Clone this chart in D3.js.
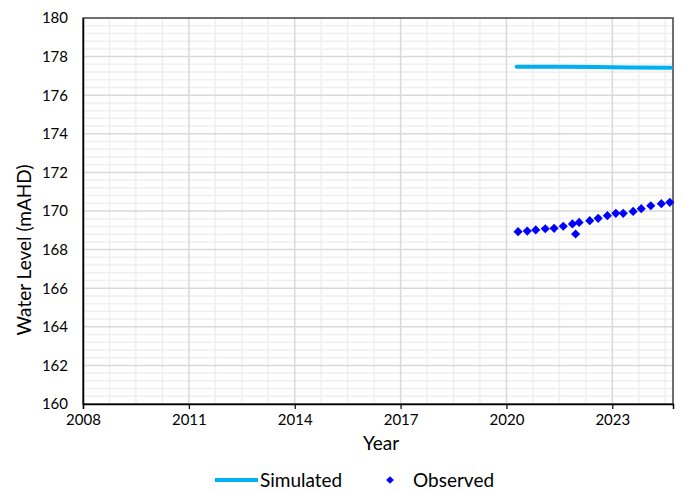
<!DOCTYPE html>
<html><head><meta charset="utf-8">
<script src="https://cdn.jsdelivr.net/npm/d3@7"></script>
<style>body{margin:0;background:#fff}svg{display:block}text{font-family:Lato,"Open Sans",sans-serif;fill:#000}</style>
</head><body>
<svg id="c" width="683" height="491"></svg>
<script>
// Data (decimal years)
const xTicks = [2008, 2011, 2014, 2017, 2020, 2023];
const yTicks = [160, 162, 164, 166, 168, 170, 172, 174, 176, 178, 180];
const simYears = [2020.29, 2021.5, 2022.5, 2023.5, 2024.66];
const simValues = [177.48, 177.47, 177.46, 177.44, 177.42];
const obsYears = [2020.33, 2020.59, 2020.83, 2021.10, 2021.35, 2021.61, 2021.87, 2021.96, 2022.06, 2022.36, 2022.60, 2022.86, 2023.10, 2023.31, 2023.59, 2023.82, 2024.09, 2024.39, 2024.63];
const obsValues = [168.93, 168.96, 169.02, 169.08, 169.10, 169.21, 169.33, 168.81, 169.41, 169.50, 169.62, 169.76, 169.88, 169.88, 169.98, 170.12, 170.27, 170.38, 170.45];

const svg = d3.select("#c");
const L = 83, R = 673, T = 18, B = 404;
const x = d3.scaleLinear().domain([2008, 2024.72]).range([L, R]);
const y = d3.scaleLinear().domain([160, 180]).range([B, T]);

// minor gridlines
const xMinor = d3.range(2008, 2024.72, 0.75).filter(v => !xTicks.includes(v));
const yMinor = d3.range(160, 180.001, 0.4).filter(v => Math.abs(v - Math.round(v)) > 0.01 || Math.round(v) % 2 === 1);
const g = svg.append("g");
g.selectAll(".xm").data(xMinor).join("line")
  .attr("x1", d => x(d)).attr("x2", d => x(d)).attr("y1", T).attr("y2", B)
  .attr("stroke", "#efefef").attr("stroke-width", 1.5);
g.selectAll(".ym").data(yMinor).join("line")
  .attr("x1", L).attr("x2", R).attr("y1", d => y(d)).attr("y2", d => y(d))
  .attr("stroke", "#efefef").attr("stroke-width", 1.5);
g.selectAll(".xM").data(xTicks.slice(1)).join("line")
  .attr("x1", d => x(d)).attr("x2", d => x(d)).attr("y1", T).attr("y2", B)
  .attr("stroke", "#d9d9d9").attr("stroke-width", 1.5);
g.selectAll(".yM").data(yTicks.slice(1, -1)).join("line")
  .attr("x1", L).attr("x2", R).attr("y1", d => y(d)).attr("y2", d => y(d))
  .attr("stroke", "#d9d9d9").attr("stroke-width", 1.5);

// frame
svg.append("rect").attr("x", L).attr("y", T).attr("width", R - L).attr("height", B - T)
  .attr("fill", "none").attr("stroke", "#404040").attr("stroke-width", 1.5);

// axes
const xAxis = d3.axisBottom(x).tickValues(xTicks).tickFormat(d3.format("d")).tickSize(5).tickPadding(5);
const xa = svg.append("g").attr("transform", `translate(0,${B})`).call(xAxis);
xa.select(".domain").attr("stroke", "#000").attr("stroke-width", 1.5);
xa.selectAll(".tick line").attr("stroke", "#000").attr("stroke-width", 1.2);
xa.selectAll("text").attr("font-size", 15).style("font-family", "Lato, sans-serif");

const yAxis = d3.axisLeft(y).tickValues(yTicks).tickFormat(d3.format("d")).tickSize(0).tickPadding(15);
const ya = svg.append("g").attr("transform", `translate(${L},0)`).call(yAxis);
ya.select(".domain").attr("stroke", "#000").attr("stroke-width", 1.5);
ya.selectAll("text").attr("font-size", 15).style("font-family", "Lato, sans-serif");

// axis titles
svg.append("text").attr("x", 381).attr("y", 450).attr("text-anchor", "middle")
  .attr("font-size", 19).text("Year");
svg.append("text").attr("transform", `translate(31,250) rotate(-90)`)
  .attr("text-anchor", "middle").attr("font-size", 19).text("Water Level (mAHD)");

// simulated line
const line = d3.line().x((d, i) => x(simYears[i])).y(d => y(d));
svg.append("path").datum(simValues).attr("d", line)
  .attr("fill", "none").attr("stroke", "#00b0f0").attr("stroke-width", 4).attr("stroke-linecap", "round");

// observed diamonds
svg.selectAll(".obs").data(obsValues).join("path")
  .attr("d", d3.symbol().type(d3.symbolSquare).size(42))
  .attr("transform", (d, i) => `translate(${x(obsYears[i])},${y(d)}) rotate(45)`)
  .attr("fill", "#0000ff");

// legend
const ly = 480;
svg.append("line").attr("x1", 215).attr("x2", 258).attr("y1", ly).attr("y2", ly)
  .attr("stroke", "#00b0f0").attr("stroke-width", 4);
svg.append("text").attr("x", 260).attr("y", ly + 7).attr("font-size", 19).text("Simulated");
svg.append("path").attr("d", d3.symbol().type(d3.symbolSquare).size(30)())
  .attr("transform", `translate(390,${ly}) rotate(45)`).attr("fill", "#0000ff");
svg.append("text").attr("x", 413).attr("y", ly + 7).attr("font-size", 19).text("Observed");
</script>
</body></html>
